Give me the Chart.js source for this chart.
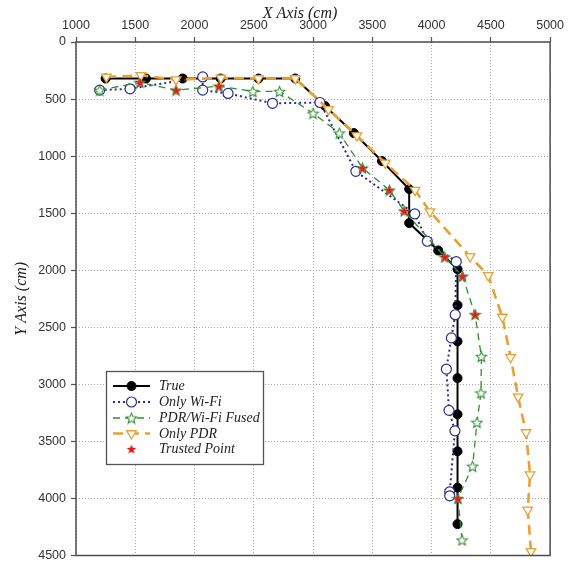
<!DOCTYPE html>
<html>
<head>
<meta charset="utf-8">
<script src="https://cdn.jsdelivr.net/npm/chart.js@4.4.1/dist/chart.umd.min.js"></script>
<style>
  html, body { margin: 0; padding: 0; background: #fff; overflow: hidden; }
  #wrap { width: 568px; height: 568px; position: relative; }
</style>
</head>
<body>
<div id="wrap"><canvas id="track"></canvas></div>
<script>
// walked track, all values in cm
const xTicks = [1000, 1500, 2000, 2500, 3000, 3500, 4000, 4500, 5000];
const yTicks = [0, 500, 1000, 1500, 2000, 2500, 3000, 3500, 4000, 4500];

const trueX = [1250, 1590, 1900, 2220, 2540, 2850, 3100, 3344, 3581, 3811, 3811, 4056, 4219, 4219, 4219, 4219, 4219, 4219, 4219, 4219];
const trueY = [320, 320, 320, 320, 320, 320, 560, 798, 1043, 1289, 1587, 1827, 1991, 2306, 2624, 2945, 3263, 3587, 3905, 4225];

const wifiX = [1200, 1456, 2069, 2069, 2283, 2658, 3058, 3361, 3858, 3964, 4208, 4200, 4167, 4125, 4147, 4197, 4153, 4153];
const wifiY = [422, 410, 306, 422, 451, 537, 530, 1133, 1506, 1746, 1925, 2390, 2593, 2867, 3228, 3408, 3942, 3977];

const fusedX = [1200, 1539, 1844, 2206, 2492, 2717, 3000, 3222, 3417, 3644, 3769, 4111, 4261, 4367, 4420, 4417, 4383, 4346, 4222, 4257];
const fusedY = [422, 353, 422, 387, 433, 433, 624, 798, 1104, 1298, 1480, 1884, 2052, 2388, 2755, 3075, 3333, 3717, 4000, 4364];

const pdrX = [1256, 1547, 1844, 2222, 2540, 2850, 3130, 3370, 3610, 3861, 3986, 4325, 4478, 4597, 4667, 4730, 4797, 4831, 4811, 4839];
const pdrY = [306, 292, 330, 315, 320, 320, 590, 820, 1060, 1298, 1486, 1880, 2046, 2410, 2763, 3110, 3422, 3792, 4101, 4463];

const trustedX = [1539, 1844, 2206, 3417, 3644, 3769, 4111, 4261, 4367, 4222];
const trustedY = [353, 422, 387, 1104, 1298, 1480, 1884, 2052, 2388, 4000];

const toPoints = (xs, ys) => xs.map((x, i) => ({ x: x, y: ys[i] }));

// five-pointed star marker drawn on a small canvas
function starMarker(size, fill, stroke, lw) {
  const c = document.createElement('canvas');
  c.width = c.height = size;
  const g = c.getContext('2d');
  const cx = size / 2, cy = size / 2 + 0.6;
  const R = size / 2 - 1, r = R * 0.45;
  g.beginPath();
  for (let i = 0; i < 10; i++) {
    const a = -Math.PI / 2 + i * Math.PI / 5;
    const rad = i % 2 ? r : R;
    g.lineTo(cx + rad * Math.cos(a), cy + rad * Math.sin(a));
  }
  g.closePath();
  g.fillStyle = fill;
  g.fill();
  if (stroke) {
    g.strokeStyle = stroke;
    g.lineWidth = lw;
    g.stroke();
  }
  return c;
}

const greenStar = starMarker(13, '#ffffff', '#2f8f2f', 1.1);
const redStar = starMarker(12, '#e31b1b', null, 0);

const serifFont = "'Liberation Serif', 'DejaVu Serif', serif";

// frame around the plot, x title and the boxed legend in the lower left
const framePlugin = {
  id: 'frame',
  afterDraw(chart) {
    const { ctx, chartArea: a } = chart;
    ctx.save();
    ctx.strokeStyle = '#4d4d4d';
    ctx.lineWidth = 1.5;
    ctx.strokeRect(a.left, a.top, a.right - a.left, a.bottom - a.top);

    // x title sits a little left of the axis centre
    ctx.fillStyle = '#222';
    ctx.font = 'italic 16px ' + serifFont;
    ctx.textAlign = 'center';
    ctx.textBaseline = 'middle';
    ctx.fillText('X Axis (cm)', 300, 14);

    const bx = 106.5, by = 371.5, bw = 157, bh = 93;
    ctx.fillStyle = '#ffffff';
    ctx.fillRect(bx, by, bw, bh);
    ctx.strokeStyle = '#555';
    ctx.lineWidth = 1.3;
    ctx.strokeRect(bx, by, bw, bh);

    const rows = [386, 402, 418, 433.5, 449];
    chart.data.datasets.forEach((ds, i) => {
      const y = rows[i];
      if (ds.showLine !== false) {
        ctx.save();
        ctx.strokeStyle = ds.borderColor;
        ctx.lineWidth = ds.borderWidth;
        ctx.setLineDash(ds.borderDash || []);
        ctx.beginPath();
        ctx.moveTo(113, y);
        ctx.lineTo(150, y);
        ctx.stroke();
        ctx.restore();
      }
      ctx.save();
      ctx.fillStyle = ds.pointBackgroundColor;
      ctx.strokeStyle = ds.pointBorderColor;
      ctx.lineWidth = ds.pointBorderWidth;
      ctx.setLineDash([]);
      Chart.helpers.drawPoint(ctx, {
        pointStyle: ds.pointStyle,
        rotation: ds.pointRotation || 0,
        radius: ds.pointRadius,
        borderWidth: ds.pointBorderWidth
      }, 131.5, y);
      ctx.restore();

      ctx.fillStyle = '#222';
      ctx.font = 'italic 14px ' + serifFont;
      ctx.textBaseline = 'middle';
      ctx.textAlign = 'left';
      ctx.fillText(ds.label, 159, y + 0.5);
    });
    ctx.restore();
  }
};

Chart.defaults.font.family = "'Liberation Sans', Arial, sans-serif";

const plainTick = v => String(v);

new Chart(document.getElementById('track'), {
  type: 'scatter',
  data: {
    datasets: [
      {
        label: 'True',
        data: toPoints(trueX, trueY),
        showLine: true,
        borderColor: '#000000',
        borderWidth: 2,
        pointStyle: 'circle',
        pointRadius: 4.5,
        pointBackgroundColor: '#000000',
        pointBorderColor: '#000000',
        pointBorderWidth: 1,
        order: 4
      },
      {
        label: 'Only Wi-Fi',
        data: toPoints(wifiX, wifiY),
        showLine: true,
        borderColor: '#2c2c92',
        borderWidth: 2,
        borderDash: [2, 3],
        pointStyle: 'circle',
        pointRadius: 5,
        pointBackgroundColor: '#ffffff',
        pointBorderColor: '#2c2c92',
        pointBorderWidth: 1.2,
        order: 3
      },
      {
        label: 'PDR/Wi-Fi Fused',
        data: toPoints(fusedX, fusedY),
        showLine: true,
        borderColor: '#2f8f2f',
        borderWidth: 1.3,
        borderDash: [7, 5],
        pointStyle: greenStar,
        pointRadius: 6,
        pointBackgroundColor: '#ffffff',
        pointBorderColor: '#2f8f2f',
        pointBorderWidth: 1.1,
        order: 2
      },
      {
        label: 'Only PDR',
        data: toPoints(pdrX, pdrY),
        showLine: true,
        borderColor: '#eaa033',
        borderWidth: 2.6,
        borderDash: [10, 6],
        pointStyle: 'triangle',
        pointRotation: 180,
        pointRadius: 5.5,
        pointBackgroundColor: '#ffffff',
        pointBorderColor: '#eaa033',
        pointBorderWidth: 1.3,
        order: 1
      },
      {
        label: 'Trusted Point',
        data: toPoints(trustedX, trustedY),
        showLine: false,
        pointStyle: redStar,
        pointRadius: 6,
        pointBackgroundColor: '#e31b1b',
        pointBorderColor: '#e31b1b',
        pointBorderWidth: 0,
        order: 0
      }
    ]
  },
  options: {
    responsive: true,
    maintainAspectRatio: false,
    devicePixelRatio: 1,
    animation: false,
    layout: {
      autoPadding: false,
      padding: { left: 0, top: 0, right: 12, bottom: 7 }
    },
    plugins: {
      legend: { display: false },
      tooltip: { enabled: false }
    },
    elements: { line: { tension: 0 } },
    scales: {
      x: {
        type: 'linear',
        position: 'top',
        min: xTicks[0],
        max: xTicks[xTicks.length - 1],
        afterBuildTicks: axis => { axis.ticks = xTicks.map(v => ({ value: v })); },
        afterFit: axis => { axis.height = 42; },
        ticks: { color: '#333', font: { size: 12.5 }, padding: 4, maxRotation: 0, callback: plainTick },
        grid: { color: '#a8a8a8', lineWidth: 1, tickLength: 5, tickColor: '#555', tickWidth: 1.2 },
        border: { display: false, dash: [1, 2] }
      },
      y: {
        type: 'linear',
        position: 'left',
        reverse: true,
        min: yTicks[0],
        max: yTicks[yTicks.length - 1],
        afterBuildTicks: axis => { axis.ticks = yTicks.map(v => ({ value: v })); },
        afterFit: axis => { axis.width = 76; },
        ticks: { color: '#333', font: { size: 12.5 }, padding: 5, callback: plainTick },
        grid: { color: '#a8a8a8', lineWidth: 1, tickLength: 5, tickColor: '#555', tickWidth: 1.2 },
        border: { display: false, dash: [1, 2] },
        title: {
          display: true,
          text: 'Y Axis (cm)',
          color: '#222',
          font: { family: serifFont, style: 'italic', size: 16 },
          padding: { top: 12, bottom: 0 }
        }
      }
    }
  },
  plugins: [framePlugin]
});
</script>
</body>
</html>
